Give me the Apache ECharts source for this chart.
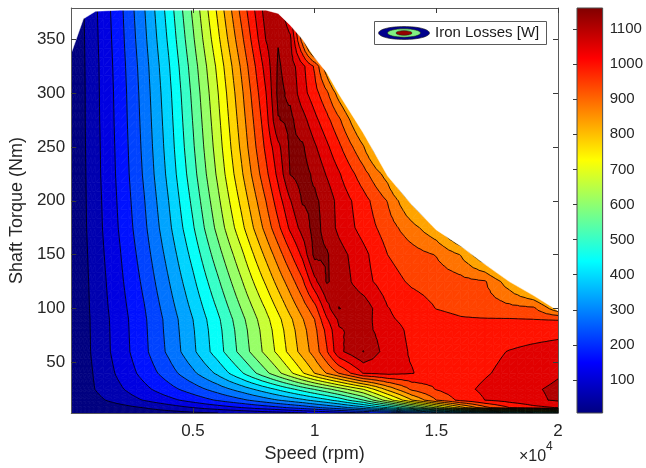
<!DOCTYPE html>
<html><head><meta charset="utf-8">
<script src="https://cdn.jsdelivr.net/npm/echarts@6/dist/echarts.min.js"></script>
<style>html,body{margin:0;padding:0;background:#fff}#chart{width:646px;height:468px}</style>
</head><body><div id="chart"></div>
<script>
// ---- data ----
const speeds  = [0, 500, 1000, 2000, 3000, 4000, 5000, 6000, 7000, 8000, 8500, 9000, 9500, 10000, 10500, 11000, 12000, 13000, 14000, 15000, 16000, 17000, 18000, 19000, 20000];
const torques = [3, 8, 15, 25, 40, 60, 80, 90, 100, 125, 150, 175, 200, 225, 250, 275, 300, 325, 350, 379];

// iron losses [W] per torque row, one value per speed
const loss_T3   = [6, 9, 11, 19, 27, 37, 48, 58, 69, 85, 90, 100, 108, 116, 127, 137, 158, 179, 205, 232, 263, 294, 331, 373, 426];
const loss_T8   = [6, 14, 22, 40, 60, 85, 111, 137, 163, 190, 205, 221, 237, 258, 279, 300, 352, 426, 531, 646, 772, 882, 950, 987, 1005];
const loss_T15  = [6, 25, 45, 79, 114, 148, 184, 221, 258, 300, 321, 342, 363, 389, 415, 447, 531, 662, 793, 898, 966, 1003, 1024, 1045, 1062];
const loss_T25  = [6, 35, 60, 103, 149, 196, 242, 291, 344, 402, 433, 465, 499, 533, 568, 607, 688, 808, 908, 953, 987, 1013, 1039, 1050, 1064];
const loss_T40  = [6, 36, 65, 123, 182, 243, 310, 383, 472, 570, 622, 677, 735, 794, 848, 900, 1005, 1018, 1005, 976, 976, 997, 1018, 1034, 1050];
const loss_T60  = [6, 39, 72, 136, 203, 279, 362, 452, 550, 651, 702, 758, 814, 869, 945, 1042, 1109, 1029, 997, 976, 971, 987, 1005, 1018, 1029];
const loss_T80  = [6, 40, 73, 138, 206, 285, 368, 459, 559, 661, 714, 771, 827, 883, 966, 1050, 1076, 1024, 992, 971, 966, 968, 971, 976, 982];
const loss_T90  = [6, 40, 74, 139, 208, 287, 373, 466, 568, 672, 726, 783, 841, 898, 997, 1065, 1081, 1010, 987, 968, 955, 953, 953, 950, 947];
const loss_T100 = [6, 41, 76, 143, 213, 296, 385, 481, 586, 692, 750, 810, 868, 929, 1034, 1109, 1086, 1005, 976, 949, 937, 926, 916, 908, 808];
const loss_T125 = [6, 43, 79, 152, 228, 318, 414, 519, 631, 749, 812, 873, 940, 1040, 1113, 1086, 1024, 971, 942, 929, 916, 903, 814, 714, 635];
const loss_T150 = [6, 45, 84, 160, 243, 339, 443, 558, 676, 806, 872, 942, 1015, 1123, 1113, 1076, 1018, 950, 921, 895, 843, 740, 635, 583, 530];
const loss_T175 = [6, 48, 88, 169, 257, 360, 472, 597, 725, 864, 937, 1014, 1076, 1128, 1086, 1042, 982, 924, 864, 803, 688, 635, 583, 530, 478];
const loss_T200 = [6, 49, 90, 174, 266, 373, 491, 620, 755, 898, 978, 1052, 1113, 1118, 1086, 1037, 971, 895, 782, 688, 635, 583, 530, 478, 426];
const loss_T225 = [6, 50, 93, 179, 276, 387, 510, 643, 785, 936, 1017, 1110, 1128, 1097, 1050, 1008, 919, 819, 635, 583, 530, 478, 426, 373, 321];
const loss_T250 = [6, 51, 94, 182, 282, 396, 523, 658, 805, 962, 1041, 1118, 1115, 1063, 1013, 961, 850, 688, 583, 530, 478, 426, 373, 321, 268];
const loss_T275 = [6, 52, 96, 185, 287, 403, 533, 670, 820, 981, 1105, 1120, 1076, 1018, 966, 908, 767, 635, 530, 478, 426, 373, 321, 268, 216];
const loss_T300 = [6, 52, 97, 187, 292, 410, 543, 682, 835, 1001, 1121, 1097, 1024, 971, 908, 819, 688, 583, 478, 426, 373, 321, 268, 216, 163];
const loss_T325 = [6, 53, 98, 191, 298, 420, 556, 698, 855, 1024, 1115, 1081, 1018, 942, 808, 688, 583, 478, 426, 373, 321, 268, 216, 163, 111];
const loss_T350 = [6, 54, 101, 196, 308, 434, 575, 724, 885, 1057, 1104, 1065, 871, 635, 583, 530, 426, 373, 321, 268, 216, 163, 111, 58, 58];
const loss_T379 = [6, 56, 104, 201, 318, 448, 594, 749, 917, 1081, 1086, 1003, 793, 688, 583, 478, 373, 321, 268, 216, 163, 111, 58, 58, 58];

// maximum shaft torque envelope (Nm) at each speed
const envelopeTorque = [337, 369, 376, 377, 377, 377, 377, 377, 377, 377, 374, 363, 350, 333, 319, 299, 263, 223, 196, 173, 158, 141, 125, 112, 98];

// contour levels (W)
const levels = [58.45, 110.9, 163.35, 215.8, 268.25, 320.7, 373.15, 425.6, 478.05, 530.5, 582.95, 635.4, 687.85, 740.3, 792.75, 845.2, 897.65, 950.1, 1002.55, 1055, 1107.45];

const colorbarMin = 6, colorbarMax = 1160;
const colorbarTicks = [100, 200, 300, 400, 500, 600, 700, 800, 900, 1000, 1100];
const xTicks = [5000, 10000, 15000, 20000];
const yTicks = [50, 100, 150, 200, 250, 300, 350];

const lossRows = [loss_T3, loss_T8, loss_T15, loss_T25, loss_T40, loss_T60, loss_T80, loss_T90, loss_T100,
  loss_T125, loss_T150, loss_T175, loss_T200, loss_T225, loss_T250, loss_T275, loss_T300, loss_T325, loss_T350, loss_T379];

// ---- helpers ----
const FONT = '"Liberation Sans", Arial, Helvetica, sans-serif';
function clamp(v) { return Math.max(0, Math.min(1, v)); }
function jet(t) {
  const c = [clamp(1.5 - Math.abs(4 * t - 3)), clamp(1.5 - Math.abs(4 * t - 2)), clamp(1.5 - Math.abs(4 * t - 1))];
  return 'rgb(' + Math.round(c[0] * 255) + ',' + Math.round(c[1] * 255) + ',' + Math.round(c[2] * 255) + ')';
}
const bandColors = [];
for (let b = 0; b <= levels.length; b++) bandColors.push(jet(b / levels.length));

const cells = [];
for (let j = 0; j < torques.length - 1; j++)
  for (let i = 0; i < speeds.length - 1; i++)
    cells.push([speeds[i], torques[j], i, j]);

// split each grid cell into small triangles (bilinear shading inside the cell)
const NS = 3;
function cellTriangles(api, i, j) {
  const c0 = api.coord([speeds[i], torques[j]]), c1 = api.coord([speeds[i + 1], torques[j + 1]]);
  const v00 = lossRows[j][i], v10 = lossRows[j][i + 1], v01 = lossRows[j + 1][i], v11 = lossRows[j + 1][i + 1];
  const g = [];
  for (let b = 0; b <= NS; b++) {
    const fy = b / NS, row = [];
    for (let a = 0; a <= NS; a++) {
      const fx = a / NS;
      row.push({ x: c0[0] + fx * (c1[0] - c0[0]), y: c0[1] + fy * (c1[1] - c0[1]),
        v: (1 - fx) * (1 - fy) * v00 + fx * (1 - fy) * v10 + (1 - fx) * fy * v01 + fx * fy * v11 });
    }
    g.push(row);
  }
  const tris = [];
  for (let b = 0; b < NS; b++)
    for (let a = 0; a < NS; a++) {
      const p00 = g[b][a], p10 = g[b][a + 1], p01 = g[b + 1][a], p11 = g[b + 1][a + 1];
      tris.push([p00, p10, p11], [p00, p11, p01]);
    }
  return tris;
}
function clipPoly(poly, L, keepAbove) {
  const out = [];
  for (let k = 0; k < poly.length; k++) {
    const a = poly[k], b = poly[(k + 1) % poly.length];
    const ain = keepAbove ? a.v >= L : a.v <= L;
    const bin = keepAbove ? b.v >= L : b.v <= L;
    if (ain) out.push(a);
    if (ain !== bin) {
      const t = (L - a.v) / (b.v - a.v);
      out.push({ x: a.x + t * (b.x - a.x), y: a.y + t * (b.y - a.y), v: L });
    }
  }
  return out;
}
function bandOf(v) { let b = 0; while (b < levels.length && v >= levels[b]) b++; return b; }

function renderFill(params, api) {
  const i = api.value(2), j = api.value(3);
  const children = [];
  cellTriangles(api, i, j).forEach(function (tri) {
    const vs = tri.map(function (p) { return p.v; });
    const b0 = bandOf(Math.min.apply(null, vs)), b1 = bandOf(Math.max.apply(null, vs));
    for (let b = b0; b <= b1; b++) {
      let poly = tri;
      if (b > 0) poly = clipPoly(poly, levels[b - 1], true);
      if (b < levels.length && poly.length >= 3) poly = clipPoly(poly, levels[b], false);
      if (poly.length >= 3) {
        children.push({
          type: 'polygon', silent: true,
          shape: { points: poly.map(function (p) { return [p.x, p.y]; }) },
          style: { fill: bandColors[b], stroke: bandColors[b], lineWidth: 0.7 }
        });
      }
    }
  });
  return { type: 'group', children: children };
}
function renderLines(params, api) {
  const i = api.value(2), j = api.value(3);
  let d = '';
  cellTriangles(api, i, j).forEach(function (tri) {
    levels.forEach(function (L) {
      const pts = [];
      for (let k = 0; k < 3; k++) {
        const a = tri[k], b = tri[(k + 1) % 3];
        if ((a.v >= L) !== (b.v >= L)) {
          const t = (L - a.v) / (b.v - a.v);
          pts.push([a.x + t * (b.x - a.x), a.y + t * (b.y - a.y)]);
        }
      }
      if (pts.length === 2) d += 'M' + pts[0][0].toFixed(2) + ' ' + pts[0][1].toFixed(2) + 'L' + pts[1][0].toFixed(2) + ' ' + pts[1][1].toFixed(2);
    });
  });
  if (!d) return null;
  return { type: 'path', silent: true, shape: { pathData: d }, style: { fill: null, stroke: '#000000', lineWidth: 0.85 } };
}
function renderMask(params, api) {
  const pts = speeds.map(function (s, i) { return api.coord([s, envelopeTorque[i]]); });
  pts.push(api.coord([speeds[speeds.length - 1], 420]));
  pts.push(api.coord([speeds[0], 420]));
  return { type: 'polygon', silent: true, shape: { points: pts }, style: { fill: '#ffffff', stroke: '#ffffff', lineWidth: 0.5 } };
}
function renderColorbar(params, api) {
  const a = api.coord([0, colorbarMax]), b = api.coord([1, colorbarMin]);
  const stops = [1, 0.875, 0.625, 0.375, 0.125, 0].map(function (t) {
    return { offset: 1 - t, color: jet(t) };
  });
  return {
    type: 'rect', silent: true,
    shape: { x: a[0], y: a[1], width: b[0] - a[0], height: b[1] - a[1] },
    style: { fill: new echarts.graphic.LinearGradient(0, 0, 0, 1, stops), stroke: '#4d4d4d', lineWidth: 1 }
  };
}

const axisLineStyle = { color: '#5a5a5a', width: 1 };
const tickStyle = { color: '#3a3a3a', width: 1 };
const labelStyle = { fontSize: 17, color: '#262626', fontFamily: FONT };

const chart = echarts.init(document.getElementById('chart'), null, { renderer: 'canvas' });
chart.setOption({
  animation: false,
  backgroundColor: '#ffffff',
  grid: [
    { left: 68, top: 8, width: 490, height: 405, show: false },
    { left: 577, top: 8, width: 26, height: 405, show: false }
  ],
  xAxis: [
    { gridIndex: 0, type: 'value', min: 0, max: 20000, position: 'bottom', z: 10,
      axisLine: { show: true, onZero: false, lineStyle: axisLineStyle },
      axisTick: { show: true, inside: true, length: 5, customValues: xTicks, lineStyle: tickStyle },
      axisLabel: Object.assign({ customValues: xTicks, margin: 10, formatter: function (v) { return String(v / 10000); } }, labelStyle),
      splitLine: { show: false },
      name: 'Speed (rpm)', nameLocation: 'middle', nameGap: 32,
      nameTextStyle: { fontSize: 18, color: '#262626', fontFamily: FONT } },
    { gridIndex: 0, type: 'value', min: 0, max: 20000, position: 'top', z: 10,
      axisLine: { show: true, onZero: false, lineStyle: axisLineStyle },
      axisTick: { show: true, inside: true, length: 5, customValues: xTicks, lineStyle: tickStyle },
      axisLabel: { show: false }, splitLine: { show: false } },
    { gridIndex: 1, type: 'value', min: 0, max: 1, show: false }
  ],
  yAxis: [
    { gridIndex: 0, type: 'value', min: 3, max: 379, position: 'left', z: 10,
      axisLine: { show: true, onZero: false, lineStyle: axisLineStyle },
      axisTick: { show: true, inside: true, length: 5, customValues: yTicks, lineStyle: tickStyle },
      axisLabel: Object.assign({ customValues: yTicks, margin: 6 }, labelStyle),
      splitLine: { show: false },
      name: 'Shaft Torque (Nm)', nameLocation: 'middle', nameGap: 40,
      nameTextStyle: { fontSize: 18, color: '#262626', fontFamily: FONT } },
    { gridIndex: 0, type: 'value', min: 3, max: 379, position: 'right', z: 10,
      axisLine: { show: true, onZero: false, lineStyle: axisLineStyle },
      axisTick: { show: true, inside: true, length: 5, customValues: yTicks, lineStyle: tickStyle },
      axisLabel: { show: false }, splitLine: { show: false } },
    { gridIndex: 1, type: 'value', min: colorbarMin, max: colorbarMax, position: 'right', z: 10,
      axisLine: { show: false },
      axisTick: { show: true, inside: true, length: 4, customValues: colorbarTicks, lineStyle: tickStyle },
      axisLabel: { customValues: colorbarTicks, margin: 7, fontSize: 15, color: '#262626', fontFamily: FONT,
        formatter: function (v) { return String(v); } },
      splitLine: { show: false } }
  ],
  series: [
    { type: 'custom', name: 'fill', xAxisIndex: 0, yAxisIndex: 0, data: cells, encode: { x: 0, y: 1 },
      renderItem: renderFill, clip: true, silent: true, z: 2, progressive: 0 },
    { type: 'custom', name: 'lines', xAxisIndex: 0, yAxisIndex: 0, data: cells, encode: { x: 0, y: 1 },
      renderItem: renderLines, clip: true, silent: true, z: 3, progressive: 0 },
    { type: 'custom', name: 'envelope', xAxisIndex: 0, yAxisIndex: 0, data: [[0, 379]], encode: { x: 0, y: 1 },
      renderItem: renderMask, clip: true, silent: true, z: 4 },
    { type: 'custom', name: 'colorbar', xAxisIndex: 2, yAxisIndex: 2, data: [[0, colorbarMin]], encode: { x: 0, y: 1 },
      renderItem: renderColorbar, silent: true, z: 2 }
  ],
  graphic: [
    { type: 'rect', z: 20, shape: { x: 374.5, y: 21.5, width: 172, height: 23 }, style: { fill: '#ffffff', stroke: '#5a5a5a', lineWidth: 1 } },
    { type: 'ellipse', z: 21, shape: { cx: 404, cy: 33, rx: 25.5, ry: 6.5 }, style: { fill: 'rgb(0,0,140)', stroke: '#1a1a1a', lineWidth: 0.6 } },
    { type: 'ellipse', z: 22, shape: { cx: 404, cy: 33, rx: 16.5, ry: 4.2 }, style: { fill: 'rgb(130,240,130)', stroke: '#1a1a1a', lineWidth: 0.6 } },
    { type: 'ellipse', z: 23, shape: { cx: 404, cy: 33, rx: 8, ry: 2.3 }, style: { fill: 'rgb(150,0,0)', stroke: '#1a1a1a', lineWidth: 0.6 } },
    { type: 'text', z: 23, style: { x: 435, y: 33, text: 'Iron Losses [W]', fill: '#1a1a1a', font: '15px ' + FONT, verticalAlign: 'middle' } },
    { type: 'text', z: 23, style: { x: 519, y: 457, text: '\u00d710', fill: '#262626', font: '16px ' + FONT, verticalAlign: 'middle' } },
    { type: 'text', z: 23, style: { x: 546, y: 447, text: '4', fill: '#262626', font: '12px ' + FONT, verticalAlign: 'middle' } }
  ]
});
</script>
</body></html>
